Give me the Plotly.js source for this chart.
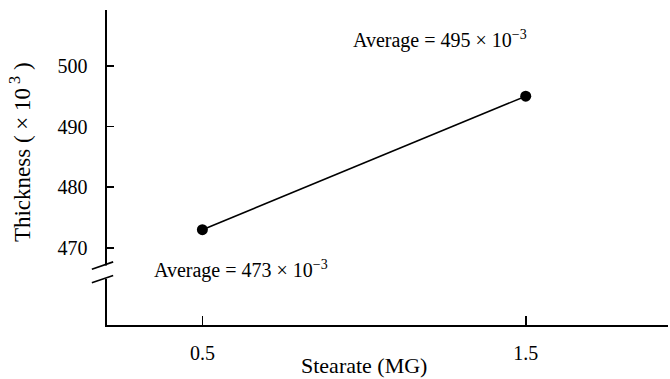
<!DOCTYPE html>
<html>
<head>
<meta charset="utf-8">
<script src="https://cdn.plot.ly/plotly-3.0.1.min.js"></script>
<style>html,body{margin:0;padding:0;background:#fff;}#chart{width:670px;height:379px;}</style>
</head>
<body>
<div id="chart"></div>
<script>
// Data
const stearate = [0.5, 1.5];
const thickness = [473, 495];
const xTickVals = [0.5, 1.5];
const xTickText = ['0.5', '1.5'];
const yTickVals = [470, 480, 490, 500];
const yTickText = ['470', '480', '490', '500'];
const avgLabels = ['Average = 473 × 10<sup>−3</sup>', 'Average = 495 × 10<sup>−3</sup>'];
const xTitle = 'Stearate (MG)';
const yTitle = 'Thickness ( × 10<sup> 3</sup> )';

const font = 'Liberation Serif, Times New Roman, serif';
const ink = '#000';

const trace = {
  x: stearate, y: thickness, type: 'scatter', mode: 'lines+markers',
  line: {color: ink, width: 1.6},
  marker: {color: ink, size: 11, symbol: 'circle'},
  hoverinfo: 'skip'
};

const layout = {
  width: 670, height: 379,
  margin: {l: 107, r: 2, t: 10, b: 54},
  paper_bgcolor: '#fff', plot_bgcolor: '#fff',
  showlegend: false,
  font: {family: font, color: ink, size: 20},
  xaxis: {
    range: [0.205, 1.94],
    showline: true, linecolor: ink, linewidth: 1.6,
    showgrid: false, zeroline: false,
    ticks: 'inside', ticklen: 9, tickwidth: 1.6, tickcolor: ink,
    tickvals: xTickVals, ticktext: xTickText,
    tickfont: {family: font, size: 20, color: ink},
    ticklabelstandoff: 9
  },
  yaxis: {
    range: [457.3, 509.2],
    showline: true, linecolor: ink, linewidth: 1.6,
    showgrid: false, zeroline: false,
    ticks: 'inside', ticklen: 7, tickwidth: 1.6, tickcolor: ink,
    tickvals: yTickVals, ticktext: yTickText,
    tickfont: {family: font, size: 20, color: ink},
    ticklabelstandoff: 14
  },
  annotations: [
    {x: 0.62, y: 466.4, xref: 'x', yref: 'y', text: avgLabels[0], showarrow: false,
     font: {family: font, size: 20, color: ink}, xanchor: 'center', yanchor: 'middle'},
    {x: 1.235, y: 504.4, xref: 'x', yref: 'y', text: avgLabels[1], showarrow: false,
     font: {family: font, size: 20, color: ink}, xanchor: 'center', yanchor: 'middle'},
    // axis titles
    {x: 1.0, y: -0.127, xref: 'x', yref: 'paper', text: xTitle, showarrow: false,
     font: {family: font, size: 22, color: ink}, xanchor: 'center', yanchor: 'middle'},
    {x: -0.155, y: 485.8, xref: 'paper', yref: 'y', text: yTitle, showarrow: false, textangle: -90,
     font: {family: font, size: 23, color: ink}, xanchor: 'center', yanchor: 'middle'}
  ],
  shapes: [
    // axis break: gap
    {type: 'rect', xref: 'paper', yref: 'y', x0: -0.006, x1: 0.006, y0: 464.9, y1: 467.1,
     fillcolor: '#fff', line: {width: 0}, layer: 'above'},
    // break slashes
    {type: 'line', xref: 'paper', yref: 'y', x0: -0.027, x1: 0.011, y0: 466.5, y1: 467.7,
     line: {color: ink, width: 1.6}, layer: 'above'},
    {type: 'line', xref: 'paper', yref: 'y', x0: -0.027, x1: 0.011, y0: 464.25, y1: 465.45,
     line: {color: ink, width: 1.6}, layer: 'above'}
  ]
};

Plotly.newPlot('chart', [trace], layout, {displayModeBar: false, staticPlot: true});
</script>
</body>
</html>
